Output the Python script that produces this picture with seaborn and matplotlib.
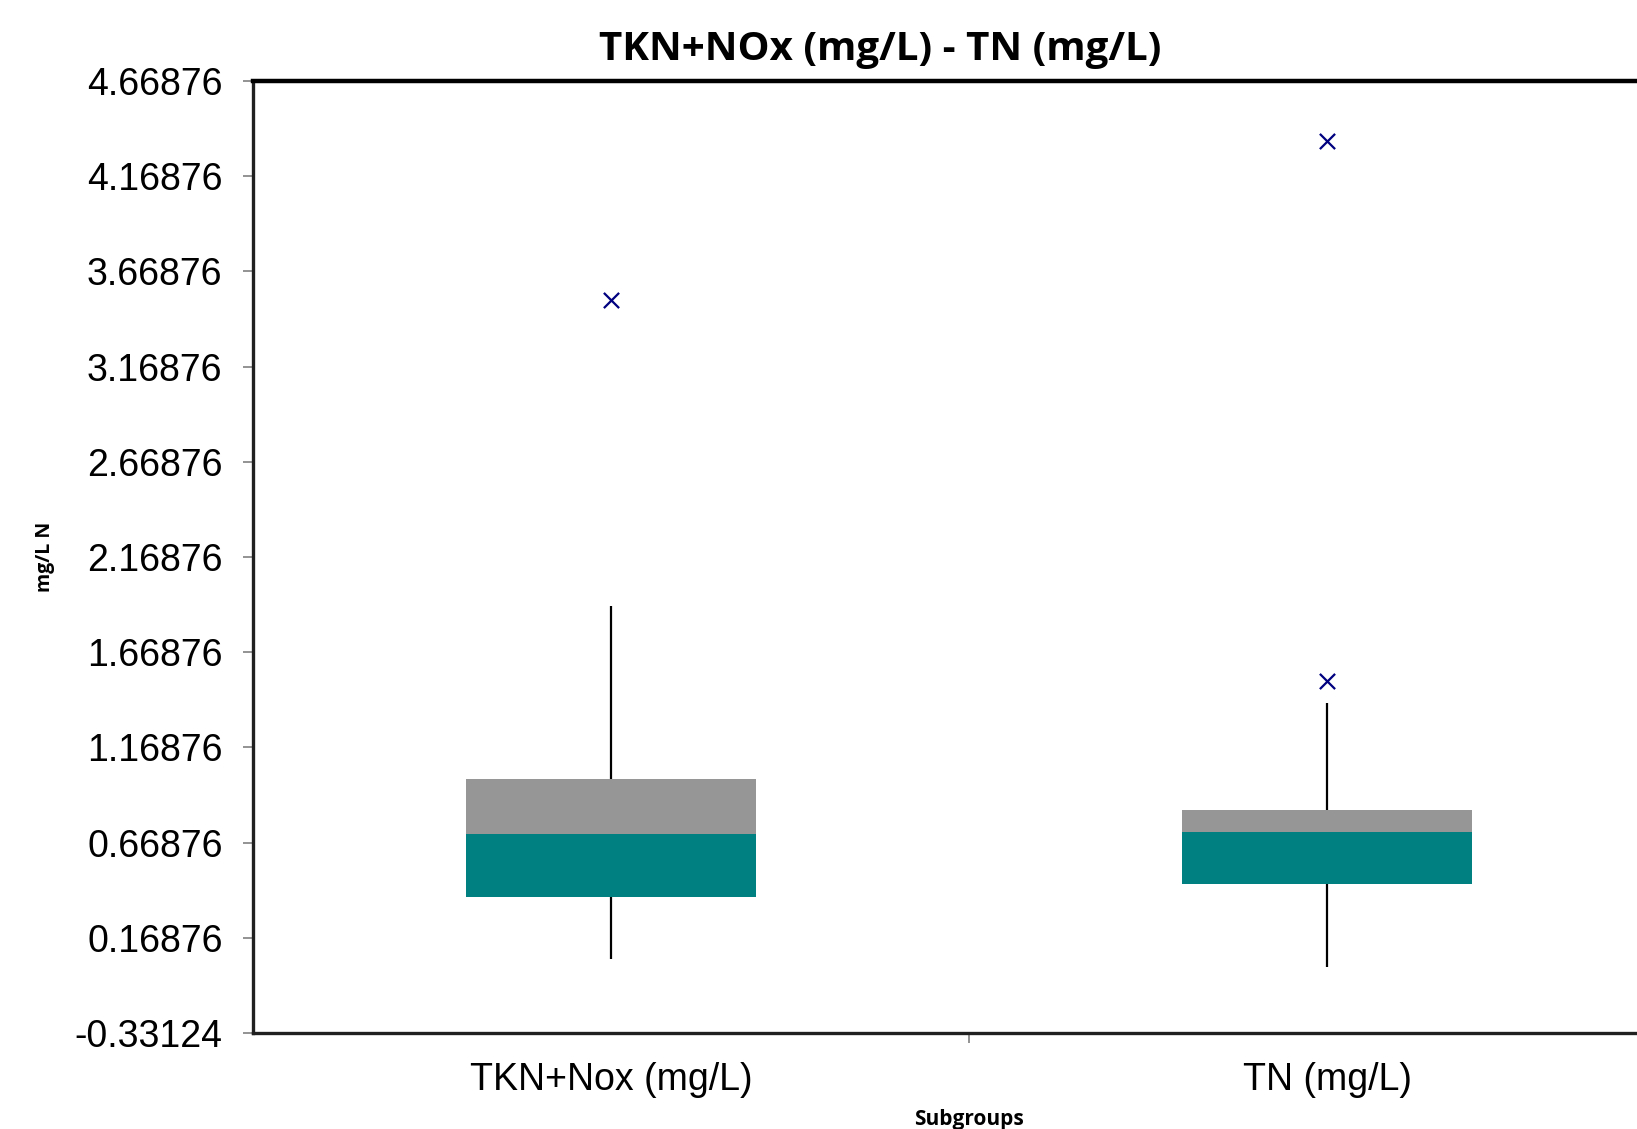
import numpy as np
import pandas as pd
import matplotlib
matplotlib.use("Agg")
import matplotlib.pyplot as plt
import seaborn as sns

categories = ["TKN+Nox (mg/L)", "TN (mg/L)"]
q1 = [0.385, 0.453]
median = [0.715, 0.727]
q3 = [1.005, 0.842]
whisker_low = [0.058, 0.014]
whisker_high = [1.91, 1.40]
outlier_cat = ["TKN+Nox (mg/L)", "TN (mg/L)", "TN (mg/L)"]
outlier_val = [3.52, 4.356, 1.516]
yticks = [-0.33124 + 0.5 * i for i in range(11)]

sns.set_style("white")
plt.rcParams["font.family"] = ["Liberation Sans", "DejaVu Sans"]
plt.rcParams["text.color"] = "black"
plt.rcParams["axes.labelcolor"] = "black"
plt.rcParams["xtick.labelcolor"] = "black"
plt.rcParams["ytick.labelcolor"] = "black"

fig = plt.figure(figsize=(16.37, 11.29), dpi=100)
ax = fig.add_axes([0.1546, 0.0850, 0.8748, 0.8432])

df = pd.DataFrame({"cat": categories, "q1": q1, "med": median, "q3": q3})
df["lower_h"] = df["med"] - df["q1"]
df["upper_h"] = df["q3"] - df["med"]

sns.barplot(data=df, x="cat", y="lower_h", bottom=df["q1"].to_numpy(), color="#008080",
            saturation=1, width=0.404, errorbar=None, ax=ax, linewidth=0, zorder=3)
sns.barplot(data=df, x="cat", y="upper_h", bottom=df["med"].to_numpy(), color="#969696",
            saturation=1, width=0.404, errorbar=None, ax=ax, linewidth=0, zorder=3)

for i in range(len(categories)):
    ax.vlines(i, whisker_low[i], q1[i], color="black", lw=1.6, zorder=2)
    ax.vlines(i, q3[i], whisker_high[i], color="black", lw=1.6, zorder=2)

odf = pd.DataFrame({"cat": outlier_cat, "val": outlier_val})
sns.scatterplot(data=odf, x="cat", y="val", marker="x", color="#000080", s=120,
                linewidth=1.6, ax=ax, zorder=4)

ax.set_xlim(-0.5, 1.5)
ax.set_ylim(-0.33124, 4.66876)
ax.set_yticks(yticks)
ax.set_yticklabels([f"{v:.5f}" for v in yticks])
ax.set_xticks([0, 1])
ax.set_xticklabels(categories)
ax.set_xticks([0.5], minor=True)

ax.tick_params(axis="y", which="major", direction="out", length=7, width=1.2,
               color="#808080", labelsize=27, pad=15, left=True, labelcolor="black")
ax.tick_params(axis="x", which="major", length=0, labelsize=27, pad=21, labelcolor="black")
ax.tick_params(axis="x", which="minor", direction="out", length=7, width=1.2,
               color="#808080", bottom=True)

for s in ["top", "right"]:
    ax.spines[s].set_color("black")
    ax.spines[s].set_linewidth(3.2)
for s in ["left", "bottom"]:
    ax.spines[s].set_color("#202020")
    ax.spines[s].set_linewidth(2.4)

ax.set_xlabel("Subgroups", fontsize=15, fontweight="bold", color="black",
              family=["Open Sans", "DejaVu Sans"])
ax.xaxis.set_label_coords(0.5, -0.080)
ax.set_ylabel("mg/L N", fontsize=14, fontweight="bold", color="black",
              family=["Open Sans", "DejaVu Sans"])
ax.yaxis.set_label_coords(-0.138, 0.5)

fig.text(880 / 1637, 0.956, "TKN+NOx (mg/L) - TN (mg/L)", ha="center", va="center",
         fontsize=29, fontweight="bold", color="black", family=["Open Sans", "DejaVu Sans"])

fig.savefig("out.png", dpi=100)
